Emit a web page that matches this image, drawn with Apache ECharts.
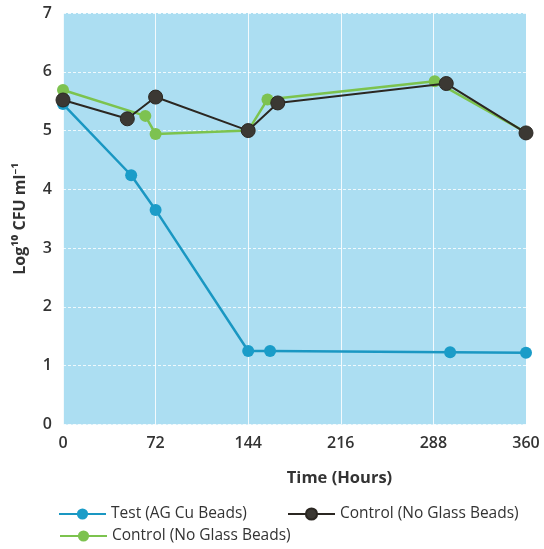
<!DOCTYPE html>
<html>
<head>
<meta charset="utf-8">
<script src="https://cdn.jsdelivr.net/npm/echarts@6/dist/echarts.min.js"></script>
<style>html,body{margin:0;padding:0;background:#fff}#c{width:544px;height:549px}</style>
</head>
<body>
<div id="c"></div>
<script>
const xTicks = [0, 72, 144, 216, 288, 360];
const yTicks = [0, 1, 2, 3, 4, 5, 6, 7];
const testName = 'Test (AG Cu Beads)';
const testData = [[0, 5.45], [53, 4.24], [72, 3.65], [144, 1.25], [161, 1.25], [301, 1.23], [360, 1.22]];
const blackName = 'Control (No Glass Beads)';
const blackData = [[0, 5.52], [50, 5.2], [72, 5.57], [144, 5.0], [167, 5.47], [298, 5.8], [360, 4.96]];
const greenName = 'Control (No Glass Beads) ';
const greenData = [[0, 5.69], [64, 5.25], [72, 4.94], [144, 5.0], [159, 5.53], [289, 5.84], [360, 4.97]];

const font = '"Open Sans", "Noto Sans", sans-serif';
const chart = echarts.init(document.getElementById('c'));
const legendBase = {
  orient: 'horizontal', itemWidth: 47, itemHeight: 14, itemGap: 5, padding: 0,
  textStyle: { fontFamily: font, fontSize: 15.5, color: '#333' }, selectedMode: false
};
chart.setOption({
  animation: false,
  grid: { left: 63, right: 18, top: 13, bottom: 124.5, show: true, backgroundColor: '#acdef2', borderWidth: 0 },
  legend: [
    Object.assign({}, legendBase, { data: [testName], left: 58, top: 506 }),
    Object.assign({}, legendBase, { data: [blackName], left: 287, top: 506 }),
    Object.assign({}, legendBase, { data: [greenName], left: 59, top: 528 })
  ],
  xAxis: {
    type: 'value', min: 0, max: 360, interval: 72,
    name: 'Time (Hours)', nameLocation: 'middle', nameGap: 45,
    nameTextStyle: { fontFamily: font, fontSize: 16.5, fontWeight: 'bold', color: '#333', padding: [0, 0, 0, 90] },
    axisLine: { show: false }, axisTick: { show: false },
    axisLabel: { fontFamily: font, fontSize: 16, fontWeight: 600, color: '#333', margin: 11,
      formatter: v => xTicks.includes(v) ? String(v) : '' },
    splitLine: { show: true, lineStyle: { color: 'rgba(255,255,255,0.85)', width: 1 } }
  },
  yAxis: {
    type: 'value', min: 0, max: 7, interval: 1,
    name: 'Log\u00B9\u2070 CFU ml\u207B\u00B9', nameLocation: 'middle', nameGap: 35, nameRotate: 90,
    nameTextStyle: { fontFamily: font, fontSize: 16, fontWeight: 'bold', color: '#333' },
    axisLine: { show: false }, axisTick: { show: false },
    axisLabel: { fontFamily: font, fontSize: 16, fontWeight: 600, color: '#333', margin: 11,
      formatter: v => yTicks.includes(v) ? String(v) : '' },
    splitLine: { show: true, lineStyle: { color: 'rgba(255,255,255,0.8)', width: 1, type: [3, 2] } }
  },
  series: [
    { name: testName, type: 'line', data: testData, symbol: 'circle', symbolSize: 12, z: 2,
      lineStyle: { color: '#1a97c2', width: 2.5 }, itemStyle: { color: '#1a9cc8' } },
    { name: greenName, type: 'line', data: greenData, symbol: 'circle', symbolSize: 12, z: 3,
      lineStyle: { color: '#7cc34e', width: 2.5 }, itemStyle: { color: '#7dc250' } },
    { name: blackName, type: 'line', data: blackData, symbol: 'circle', symbolSize: 14, z: 4,
      lineStyle: { color: '#2b2722', width: 2 }, itemStyle: { color: '#3b3833', borderColor: '#2b2722', borderWidth: 1 } }
  ]
});
</script>
</body>
</html>
